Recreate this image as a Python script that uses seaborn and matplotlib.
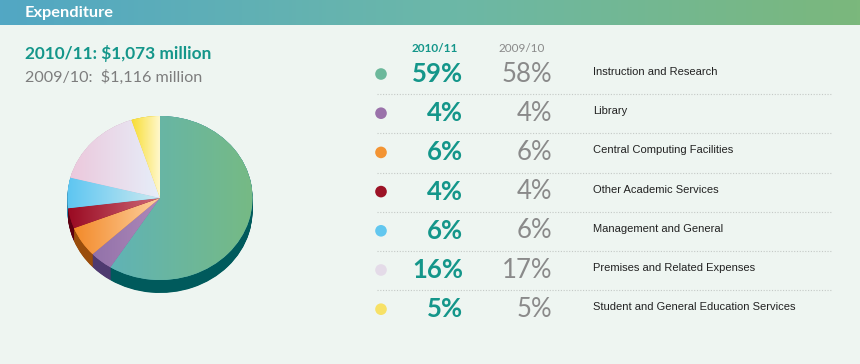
import numpy as np
import matplotlib
matplotlib.use("Agg")
import matplotlib.pyplot as plt
import seaborn as sns
import pandas as pd
from matplotlib.colors import LinearSegmentedColormap

# ---------------- data ----------------
title = "Expenditure"
total_cur_label = "2010/11: $1,073 million"
total_prev_label = "2009/10:  $1,116 million"
year_cur = "2010/11"
year_prev = "2009/10"
categories = [
    "Instruction and Research",
    "Library",
    "Central Computing Facilities",
    "Other Academic Services",
    "Management and General",
    "Premises and Related Expenses",
    "Student and General Education Services",
]
pct_cur = [59, 4, 6, 4, 6, 16, 5]
pct_prev = [58, 4, 6, 4, 6, 17, 5]
dot_colors = ["#6cb89b", "#9a72aa", "#f39433", "#9c1326", "#62c7ef", "#e4dbe8", "#f7e166"]
face_left = ["#60b3b6", "#9272aa", "#f38a2a", "#9a0a22", "#5ec6f2", "#ecc8dc", "#f8dc30"]
face_right = ["#76ba84", "#ae88b8", "#fdd1a0", "#cd6a78", "#cdeaf0", "#e6eef9", "#fff8cc"]
side_colors = ["#005a5c", "#4e3a70", "#9a4d0c", "#5e0012", "#2f88ad", "#b0a2b4", "#c2a820"]

# ---------------- style ----------------
sns.set_theme(style="white")
plt.rcParams["font.family"] = ["Lato", "DejaVu Sans"]

W, H = 860, 364
BG = "#eef5f1"
TEAL = "#14968a"
GREY = "#7d7d7d"

fig = plt.figure(figsize=(W / 100, H / 100), dpi=100)
fig.patch.set_facecolor(BG)

ax = fig.add_axes([0, 0, 1, 1])
ax.set_facecolor(BG)
ax.set_xlim(0, W)
ax.set_ylim(H, 0)
ax.axis("off")

# header bar with gradient
hcmap = LinearSegmentedColormap.from_list("hdr", ["#52a7c4", "#6bb7a9", "#7bb87c"])
ax.imshow(np.linspace(0, 1, 256)[None, :], cmap=hcmap, extent=[0, W, 25, 0],
          aspect="auto", zorder=0)
ax.set_xlim(0, W)
ax.set_ylim(H, 0)
ax.text(25, 13.5, title, color="white", fontsize=11.8, fontweight="bold",
        va="center", ha="left")

# totals
ax.text(25, 53, total_cur_label, color=TEAL, fontsize=12.4, fontweight="bold",
        va="center", ha="left", parse_math=False)
ax.text(25, 77, total_prev_label, color=GREY, fontsize=11.6,
        va="center", ha="left", parse_math=False)

# ---------------- table ----------------
row_y0, row_step = 74, 39.2
df = pd.DataFrame({
    "category": categories,
    "cur": pct_cur,
    "prev": pct_prev,
})
df["y"] = row_y0 + row_step * np.arange(len(df))
df["x"] = 381

ax.text(435, 49, year_cur, color=TEAL, fontsize=8.5, fontweight="bold",
        ha="center", va="center")
ax.text(522, 49, year_prev, color="#8a8a8a", fontsize=8.5,
        ha="center", va="center")

sns.scatterplot(data=df, x="x", y="y", hue="category",
                palette=dict(zip(categories, dot_colors)), s=70,
                edgecolor="none", legend=False, ax=ax, zorder=5)

for _, r in df.iterrows():
    ax.text(463, r["y"], f"{r['cur']}%", color=TEAL, fontsize=18.5,
            fontweight="bold", ha="right", va="center")
    ax.text(552, r["y"], f"{r['prev']}%", color="#8a8a8a", fontsize=18.5,
            fontweight="normal", ha="right", va="center")
    ax.text(593, r["y"] - 2, r["category"], color="#222222", fontsize=8,
            ha="left", va="center",
            family=["Liberation Sans Narrow", "Liberation Sans", "DejaVu Sans"])

sep_y = (df["y"].values[:-1] + df["y"].values[1:]) / 2 + 0.5
ax.hlines(sep_y, 377, 832, colors="#c4c9c6", linestyles=(0, (1, 1.5)), linewidth=0.8)
ax.set_xlim(0, W)
ax.set_ylim(H, 0)
ax.axis("off")

# ---------------- pie (3D look) ----------------
cx, cy, rx, ry, depth = 160, 198, 92.5, 82, 13
half = 100
pax = fig.add_axes([(cx - half) / W, (H - (cy + half)) / H, 2 * half / W, 2 * half / H])
pax.set_facecolor("none")

d_units = depth / ry
for d in np.linspace(d_units, 0.0, 26):
    pax.pie(pct_cur, colors=side_colors, startangle=90, counterclock=False,
            center=(0, -d), wedgeprops=dict(linewidth=0, antialiased=True))

wedges, _ = pax.pie(pct_cur, colors=face_left, startangle=90, counterclock=False,
                    wedgeprops=dict(linewidth=0))
for w, cl, cr in zip(wedges, face_left, face_right):
    th = np.deg2rad(np.linspace(w.theta1, w.theta2, 100))
    xs = np.concatenate([np.cos(th), [0]])
    x0, x1 = xs.min(), xs.max()
    if x1 - x0 < 1e-3:
        x1 = x0 + 1e-3
    cm = LinearSegmentedColormap.from_list("g", [cl, cr])
    im = pax.imshow(np.linspace(0, 1, 256)[None, :], cmap=cm,
                    extent=[x0, x1, -1, 1], aspect="auto", zorder=w.get_zorder() + 0.1)
    im.set_clip_path(w)

pax.set_aspect("auto")
pax.set_xlim(-half / rx, half / rx)
pax.set_ylim(-half / ry, half / ry)
pax.axis("off")

fig.savefig("out.png", dpi=100, facecolor=BG)
